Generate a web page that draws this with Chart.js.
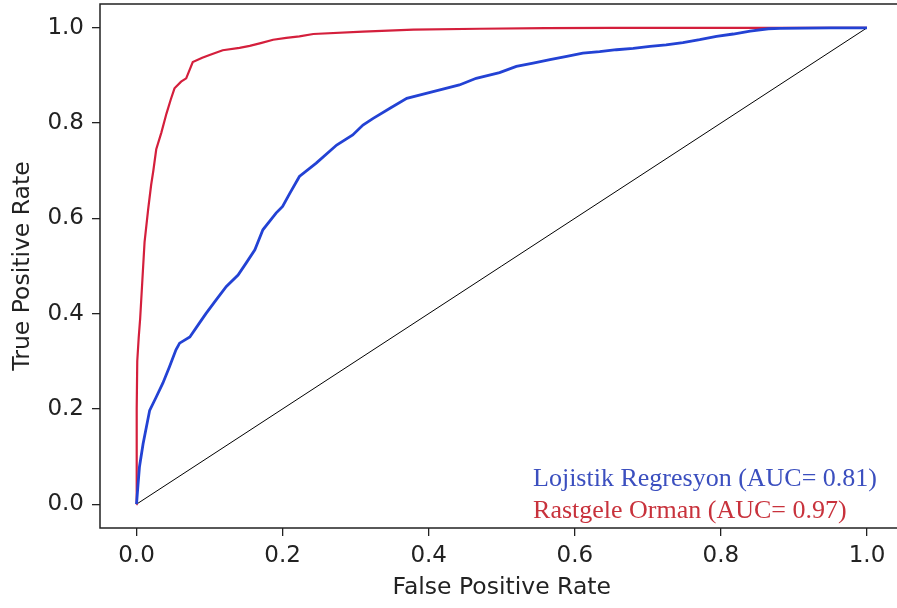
<!DOCTYPE html>
<html><head><meta charset="utf-8">
<script src="https://cdn.jsdelivr.net/npm/chart.js@4"></script>
<style>html,body{margin:0;padding:0;overflow:hidden;background:#fff;width:897px;height:608px}canvas{display:block}</style>
</head><body>
<canvas id="c" width="904" height="608"></canvas>
<script>
// Logistic regression ROC
const fprLR = [0,0.002,0.004,0.009,0.018,0.027,0.036,0.045,0.054,0.059,0.073,0.086,0.095,0.109,0.123,0.139,0.150,0.162,0.173,0.191,0.200,0.210,0.223,0.246,0.274,0.296,0.310,0.324,0.347,0.370,0.406,0.442,0.465,0.497,0.520,0.543,0.566,0.589,0.611,0.634,0.657,0.680,0.703,0.725,0.748,0.771,0.794,0.817,0.840,0.865,0.881,0.950,1.0];
const tprLR = [0,0.040,0.078,0.127,0.197,0.225,0.254,0.288,0.324,0.338,0.351,0.380,0.400,0.429,0.457,0.481,0.506,0.534,0.576,0.611,0.625,0.653,0.688,0.716,0.754,0.775,0.796,0.810,0.831,0.852,0.866,0.880,0.894,0.906,0.919,0.926,0.933,0.940,0.947,0.950,0.954,0.957,0.961,0.964,0.969,0.975,0.982,0.987,0.993,0.998,0.999,1.0,1.0];
// Random forest ROC
const fprRF = [0,0,0.0005,0.001,0.003,0.005,0.008,0.011,0.016,0.020,0.023,0.027,0.034,0.041,0.047,0.052,0.061,0.068,0.077,0.090,0.100,0.118,0.141,0.155,0.170,0.187,0.205,0.223,0.242,0.310,0.379,0.470,0.560,0.650,1.0];
const tprRF = [0,0.10,0.20,0.30,0.35,0.39,0.47,0.55,0.62,0.67,0.70,0.745,0.78,0.82,0.85,0.873,0.887,0.894,0.928,0.937,0.943,0.953,0.958,0.962,0.968,0.975,0.979,0.982,0.987,0.992,0.996,0.998,0.9995,1.0,1.0];
// Chance diagonal
const fprChance = [0,1];
const tprChance = [0,1];
const tickValues = [0,0.2,0.4,0.6,0.8,1.0];
const seriesLabels = ['Lojistik Regresyon (AUC= 0.81)','Rastgele Orman (AUC= 0.97)'];
const xTitle = 'False Positive Rate';
const yTitle = 'True Positive Rate';

const pts = (xs, ys) => xs.map((x,i)=>({x:x, y:ys[i]}));
const tickFont = {family:'"DejaVu Sans"', size:23};
const titleFont = {family:'"DejaVu Sans"', size:23.5};

function scaleOpts(title, isX){
  return {
    type:'linear', min:-0.05, max:1.05,
    afterBuildTicks: s => { s.ticks = tickValues.map(v=>({value:v})); },
    afterFit: s => {
      if(isX) s.height = 80; else s.width = 100;
      s.paddingTop = 0; s.paddingBottom = 0; s.paddingLeft = 0; s.paddingRight = 0;
    },
    ticks:{color:'#222', font:tickFont, padding:isX?6:8, callback:v=>Number(v).toFixed(1), maxRotation:0, autoSkip:false},
    grid:{display:true, drawOnChartArea:false, drawTicks:true, tickLength:8, color:'#222', lineWidth:1.3},
    border:{display:false},
    title:{display:true, text:title, color:'#222', font:titleFont, padding:isX?{top:4,bottom:6.4}:{top:9.2,bottom:4}}
  };
}

const framePlugin = {id:'frame', afterDatasetsDraw(chart){
  const {ctx, chartArea:a} = chart;
  ctx.save(); ctx.strokeStyle='#222'; ctx.lineWidth=1.5;
  ctx.strokeRect(a.left, a.top, a.right-a.left, a.bottom-a.top);
  ctx.restore();
}};
const textLegend = {id:'textLegend', afterDraw(chart){
  const {ctx, chartArea:a} = chart;
  ctx.save(); ctx.font='26px "Liberation Serif"'; ctx.textBaseline='alphabetic';
  const items = chart.data.datasets.filter(d=>d.legendColor);
  const w = Math.max(...items.map(d=>ctx.measureText(d.label).width));
  const x = a.right - 26.5 - w;
  items.forEach((d,i)=>{ ctx.fillStyle=d.legendColor; ctx.fillText(d.label, x, a.bottom-42+i*32); });
  ctx.restore();
}};

new Chart(document.getElementById('c'), {
  type:'scatter',
  data:{datasets:[
    {label:seriesLabels[0], data:pts(fprLR,tprLR), showLine:true, borderColor:'#2342d4', borderWidth:2.8, pointRadius:0, legendColor:'#3b4fbf'},
    {label:seriesLabels[1], data:pts(fprRF,tprRF), showLine:true, borderColor:'#d41f3c', borderWidth:2.2, pointRadius:0, legendColor:'#c8323c'},
    {label:'chance', data:pts(fprChance,tprChance), showLine:true, borderColor:'#000', borderWidth:1, pointRadius:0}
  ]},
  options:{
    responsive:false, animation:false, devicePixelRatio:1,
    layout:{padding:{top:4,left:0,right:0.5,bottom:0}},
    elements:{line:{tension:0}},
    plugins:{legend:{display:false}, tooltip:{enabled:false}},
    scales:{x:scaleOpts(xTitle,true), y:scaleOpts(yTitle,false)}
  },
  plugins:[framePlugin, textLegend]
});
</script>
</body></html>
